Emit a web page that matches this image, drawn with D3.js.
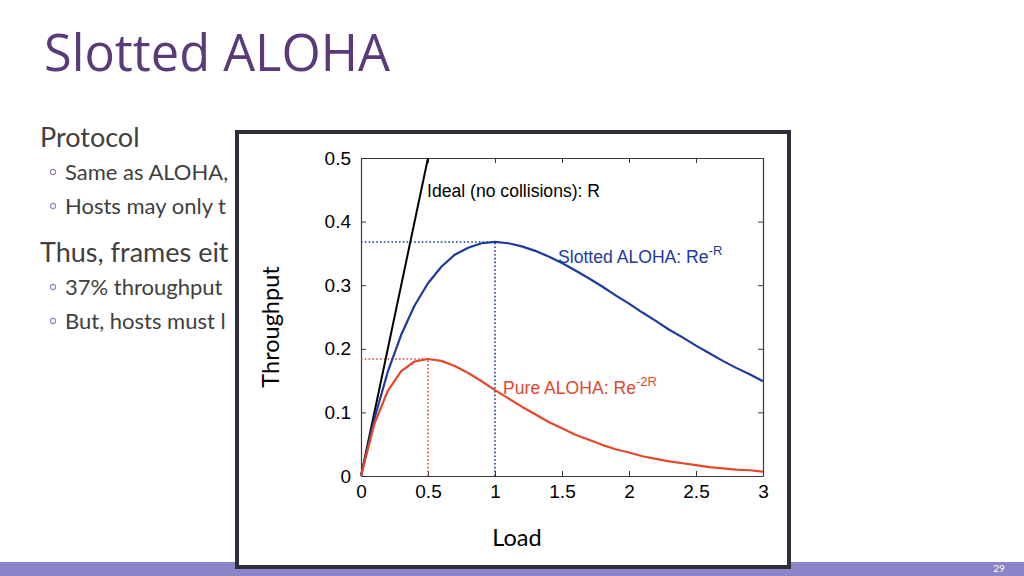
<!DOCTYPE html>
<html><head><meta charset="utf-8">
<script src="https://cdn.jsdelivr.net/npm/d3@7"></script>
<style>html,body{margin:0;padding:0;background:#fff;}svg{display:block;}</style>
</head><body>
<svg id="c" width="1024" height="576"></svg>
<script>
// ---- data ----
const titleText = "Slotted ALOHA";
const bullets = [
  {level:0, text:"Protocol"},
  {level:1, text:"Same as ALOHA,"},
  {level:1, text:"Hosts may only t"},
  {level:0, text:"Thus, frames eit"},
  {level:1, text:"37% throughput"},
  {level:1, text:"But, hosts must l"}
];
const loads   = [0,0.1,0.2,0.3,0.4,0.5,0.6,0.7,0.8,0.9,1.0,1.1,1.2,1.3,1.4,1.5,1.6,1.7,1.8,1.9,2.0,2.1,2.2,2.3,2.4,2.5,2.6,2.7,2.8,2.9,3.0];
const slotted = [0,0.090,0.164,0.222,0.268,0.303,0.329,0.348,0.359,0.366,0.368,0.366,0.361,0.354,0.345,0.335,0.323,0.311,0.298,0.284,0.271,0.257,0.244,0.230,0.218,0.205,0.193,0.181,0.170,0.160,0.149];
const pure    = [0,0.082,0.134,0.165,0.180,0.184,0.181,0.173,0.162,0.149,0.135,0.122,0.109,0.097,0.085,0.075,0.065,0.057,0.049,0.042,0.037,0.031,0.027,0.023,0.020,0.017,0.014,0.012,0.010,0.009,0.007];
const idealX  = [0,0.5];
const idealY  = [0,0.5];
const slottedPeak = {x:1.0, y:0.368};
const purePeak    = {x:0.5, y:0.184};
const xTicks = [0,0.5,1,1.5,2,2.5,3];
const xTickLabels = ["0","0.5","1","1.5","2","2.5","3"];
const yTicks = [0,0.1,0.2,0.3,0.4,0.5];
const yTickLabels = ["0","0.1","0.2","0.3","0.4","0.5"];
const labels = {ideal:"Ideal (no collisions): R", slotted:["Slotted ALOHA: Re","-R"], pure:["Pure ALOHA: Re","-2R"], x:"Load", y:"Throughput"};
const pageNum = "29";

// ---- drawing ----
const svg = d3.select("#c");
const purple = "#5a3a78", textGray = "#404040";

// bottom bar
svg.append("rect").attr("x",0).attr("y",562).attr("width",1024).attr("height",14).attr("fill","#8985c6");
svg.append("text").attr("x",999).attr("y",572).attr("text-anchor","middle")
  .attr("font-family","Lato").attr("font-size",10).attr("fill","#ffffff").text(pageNum);

// title
svg.append("text").attr("x",44).attr("y",71).attr("font-family","'Open Sans'")
  .attr("font-size",50.5).attr("fill",purple).text(titleText);

// body text (clipped behind figure)
svg.append("clipPath").attr("id","bodyclip").append("rect").attr("x",0).attr("y",100).attr("width",237).attr("height",300);
const body = svg.append("g").attr("clip-path","url(#bodyclip)");
const baselines = [147,180,214,262,295,329];
bullets.forEach((b,i)=>{
  if(b.level===0){
    body.append("text").attr("x",40).attr("y",baselines[i]).attr("font-family","Lato")
      .attr("font-size",27).attr("fill",textGray).text(b.text);
  } else {
    body.append("circle").attr("cx",53).attr("cy",baselines[i]-8).attr("r",2.6)
      .attr("fill","none").attr("stroke","#9b7fc4").attr("stroke-width",1.1);
    body.append("text").attr("x",65).attr("y",baselines[i]).attr("font-family","Lato")
      .attr("font-size",22).attr("fill",textGray).text(b.text);
  }
});

// figure frame
svg.append("rect").attr("x",237).attr("y",132).attr("width",552).attr("height",435)
  .attr("fill","#ffffff").attr("stroke","#2f2f3c").attr("stroke-width",4);

// scales
const x = d3.scaleLinear().domain([0,3]).range([361,763]);
const y = d3.scaleLinear().domain([0,0.5]).range([476,158]);
const plot = svg.append("g");

// axes (MATLAB box, inward ticks)
const axColor = "#3a3a3a";
const tickFont = "'Liberation Sans', Arial, sans-serif";
const bottomAxis = d3.axisBottom(x).tickValues(xTicks).tickSizeInner(-5).tickSizeOuter(0).tickPadding(9)
  .tickFormat((d,i)=>xTickLabels[i]);
const topAxis = d3.axisTop(x).tickValues(xTicks).tickSizeInner(-5).tickSizeOuter(0).tickFormat("");
const leftAxis = d3.axisLeft(y).tickValues(yTicks).tickSizeInner(-5).tickSizeOuter(0).tickPadding(10)
  .tickFormat((d,i)=>yTickLabels[i]);
const rightAxis = d3.axisRight(y).tickValues(yTicks).tickSizeInner(-5).tickSizeOuter(0).tickFormat("");

function styleAxis(g){
  g.select(".domain").attr("stroke",axColor).attr("stroke-width",1.2);
  g.selectAll(".tick line").attr("stroke",axColor).attr("stroke-width",1);
  g.selectAll(".tick text").attr("fill","#000").attr("font-family",tickFont).attr("font-size",19);
}
plot.append("g").attr("transform",`translate(0,${y(0)})`).call(bottomAxis).call(styleAxis);
plot.append("g").attr("transform",`translate(0,${y(0.5)})`).call(topAxis).call(styleAxis);
plot.append("g").attr("transform",`translate(${x(0)},0)`).call(leftAxis).call(styleAxis);
plot.append("g").attr("transform",`translate(${x(3)},0)`).call(rightAxis).call(styleAxis);

const blue = "#1d3a9e", red = "#e4472b";

// dotted guides
function dotted(x1,y1,x2,y2,c){
  plot.append("line").attr("x1",x(x1)).attr("y1",y(y1)).attr("x2",x(x2)).attr("y2",y(y2))
    .attr("stroke",c).attr("stroke-width",1.6).attr("stroke-dasharray","1.6,2.2");
}
dotted(0,slottedPeak.y,slottedPeak.x,slottedPeak.y,blue);
dotted(slottedPeak.x,0,slottedPeak.x,slottedPeak.y,blue);
dotted(0,purePeak.y,purePeak.x,purePeak.y,red);
dotted(purePeak.x,0,purePeak.x,purePeak.y,red);

// curves
const line = d3.line().x(d=>x(d[0])).y(d=>y(d[1]));
plot.append("path").datum(idealX.map((v,i)=>[v,idealY[i]])).attr("d",line)
  .attr("fill","none").attr("stroke","#000").attr("stroke-width",2);
plot.append("path").datum(loads.map((v,i)=>[v,slotted[i]])).attr("d",line)
  .attr("fill","none").attr("stroke",blue).attr("stroke-width",2.2).attr("stroke-linejoin","round");
plot.append("path").datum(loads.map((v,i)=>[v,pure[i]])).attr("d",line)
  .attr("fill","none").attr("stroke",red).attr("stroke-width",2.2).attr("stroke-linejoin","round");

// curve labels
const lblFont = "'Liberation Sans', Arial, sans-serif";
plot.append("text").attr("x",427).attr("y",197).attr("font-family",lblFont).attr("font-size",17.6)
  .attr("fill","#000").text(labels.ideal);
const sl = plot.append("text").attr("x",558).attr("y",263).attr("font-family",lblFont).attr("font-size",17.6).attr("fill",blue);
sl.append("tspan").text(labels.slotted[0]);
sl.append("tspan").attr("dy",-8).attr("font-size",13).text(labels.slotted[1]);
const pl = plot.append("text").attr("x",503).attr("y",394).attr("font-family",lblFont).attr("font-size",17.6).attr("fill",red);
pl.append("tspan").text(labels.pure[0]);
pl.append("tspan").attr("dy",-8).attr("font-size",13).text(labels.pure[1]);

// axis titles
svg.append("text").attr("x",517).attr("y",546).attr("text-anchor","middle").attr("font-family","Lato")
  .attr("font-size",23.5).attr("fill","#000").text(labels.x);
svg.append("text").attr("transform","translate(279,327) rotate(-90)").attr("text-anchor","middle")
  .attr("font-family","Lato").attr("font-size",23.5).attr("fill","#000").text(labels.y);
</script>
</body></html>
